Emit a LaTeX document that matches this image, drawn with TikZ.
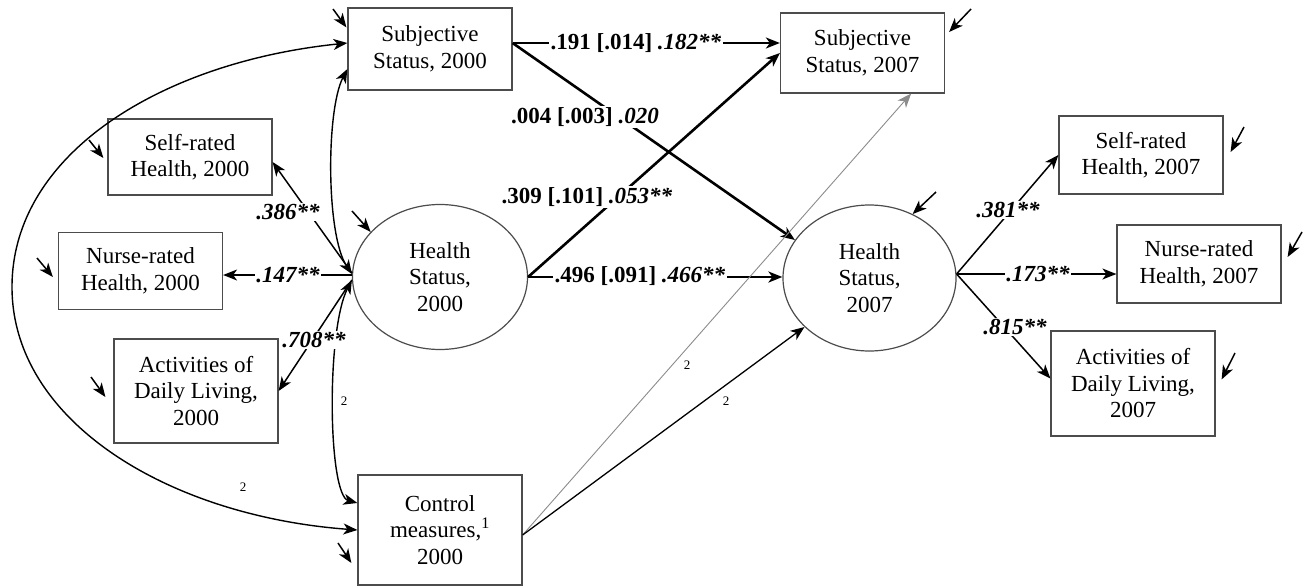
\documentclass[tikz,border=0pt]{standalone}
\usepackage{fontspec}
\setmainfont{Liberation Serif}
\usetikzlibrary{arrows.meta,calc,shapes.geometric}
\begin{document}
\begin{tikzpicture}[x=1pt,y=-1pt,
  every node/.style={font=\fontsize{23}{26.5}\selectfont},
  box/.style={draw=black!70, line width=1.2pt, rectangle, minimum width=164pt, align=center, inner sep=0pt},
  lat/.style={draw=black!70, line width=1.2pt, ellipse, align=center, inner sep=0pt},
  tip/.style={-{Stealth[length=14pt,width=11pt,inset=4pt]}},
  dtip/.style={{Stealth[length=14pt,width=11pt,inset=4pt]}-{Stealth[length=14pt,width=11pt,inset=4pt]}},
  strong/.style={tip, line width=2.6pt},
  load/.style={tip, line width=1.5pt},
  cov/.style={dtip, line width=1.4pt},
  err/.style={tip, line width=1.5pt},
  ctl/.style={tip, line width=1.3pt},
  lab/.style={fill=white, inner sep=1.5pt, font=\fontsize{23}{26}\selectfont\bfseries},
  small/.style={font=\fontsize{13}{15}\selectfont, inner sep=1pt},
]
\fill[white] (0,0) rectangle (1309,587);
\useasboundingbox (0,0) rectangle (1309,587);

% nodes
\node[box, minimum height=82pt] (subj0) at (430,49) {Subjective\\Status, 2000};
\node[box, minimum height=76pt] (self0) at (190,157) {Self-rated\\Health, 2000};
\node[box, minimum height=77pt] (nurse0) at (140.5,271) {Nurse-rated\\Health, 2000};
\node[box, minimum height=104pt] (adl0) at (196,391) {Activities of\\Daily Living,\\2000};
\node[box, minimum height=110pt] (ctrl) at (440,530) {Control\\measures,\textsuperscript{1}\\2000};
\node[lat, minimum width=175pt, minimum height=145pt] (hs0) at (440,277) {Health\\Status,\\2000};
\node[box, minimum height=80pt] (subj7) at (862.5,53) {Subjective\\Status, 2007};
\node[lat, minimum width=173pt, minimum height=146pt] (hs7) at (869.5,278) {Health\\Status,\\2007};
\node[box, minimum height=78pt] (self7) at (1141,155) {Self-rated\\Health, 2007};
\node[box, minimum height=78pt] (nurse7) at (1199,264) {Nurse-rated\\Health, 2007};
\node[box, minimum height=105pt] (adl7) at (1133,383.5) {Activities of\\Daily Living,\\2007};

% structural paths
\coordinate (s0e) at ($(subj0.east)+(0,-6)$);
\draw[strong] (s0e) -- (s0e -| subj7.west);
\draw[strong] (s0e) -- (hs7.153);
\draw[strong] (hs0.east) -- (subj7.west);
\draw[strong] (hs0.east) -- (hs0.east -| hs7.west);

% control measures paths
\coordinate (ce) at ($(ctrl.east)+(0,5)$);
\draw[ctl, black!45, line width=0.9pt] (ce) -- ($(subj7.south east)+(-34,0)$);
\draw[ctl] (ce) -- (hs7.217);

% loadings 2000
\coordinate (h0a) at ($(hs0.west)+(0,-4)$);
\coordinate (h0b) at ($(hs0.west)+(0,-2)$);
\coordinate (h0c) at ($(hs0.west)+(0,3)$);
\draw[load] (h0a) -- ($(self0.east)+(0,5)$);
\draw[load] (h0b) -- (h0b -| nurse0.east);
\draw[load] (h0c) -- (adl0.east);

% loadings 2007
\coordinate (h7) at ($(hs7.east)+(0,-4)$);
\draw[load] (h7) -- (self7.west);
\draw[load] (h7) -- (h7 -| nurse7.west);
\draw[load] (h7) -- ($(adl7.west)+(0,-5)$);

% covariances
\draw[cov] ($(subj0.west)+(0,20)$) .. controls (326,110) and (326,235) .. ($(hs0.west)+(0,-3)$);
\draw[cov] ($(hs0.west)+(0,3)$) .. controls (326,330) and (328,495) .. ($(ctrl.west)+(0,-27)$);
\draw[cov] ($(subj0.west)+(0,-6)$) .. controls (163,62) and (12,153) .. (12,287)
  .. controls (12,421) and (168,516) .. (ctrl.west);

% error terms
\coordinate (e1) at (333,9);
\coordinate (e2) at (89,140);
\coordinate (e3) at (37,258);
\coordinate (e4) at (352,211);
\coordinate (e5) at (91,377);
\coordinate (e6) at (338,543);
\coordinate (e7) at (971,9);
\coordinate (e8) at (936,192);
\coordinate (e9) at (1244,127);
\coordinate (e10) at (1302,232);
\coordinate (e11) at (1235,353);
\draw[err] (e1) -- ($(subj0.north west)+(-1,20)$);
\draw[err] (e2) -- ($(self0.west)+(-4,1)$);
\draw[err] (e3) -- ($(nurse0.west)+(-5,6)$);
\draw[err] (e4) -- (hs0.147);
\draw[err] (e5) -- ($(adl0.west)+(-8,6)$);
\draw[err] (e6) -- ($(ctrl.west)+(-6,33)$);
\draw[err] (e7) -- ($(subj7.east)+(4,-21)$);
\draw[err] (e8) -- (hs7.56);
\draw[err] (e9) -- ($(self7.east)+(7,-3)$);
\draw[err] (e10) -- ($(nurse7.east)+(6,-7)$);
\draw[err] (e11) -- ($(adl7.east)+(6,-4)$);

% labels
\node[lab] (l1) at (636,43) {.191 [.014] \textit{.182**}};
\node[lab] (l2) at (585,117) {.004 [.003] \textit{.020}};
\node[lab] (l3) at (587,197) {.309 [.101] \textit{.053**}};
\node[lab] (l4) at (640,276) {.496 [.091] \textit{.466**}};
\node[lab] (l5) at (288,212) {\textit{.386**}};
\node[lab] (l6) at (288,275) {\textit{.147**}};
\node[lab] (l7) at (314,340) {\textit{.708**}};
\node[lab] (l8) at (1008,210) {\textit{.381**}};
\node[lab] (l9) at (1038,274) {\textit{.173**}};
\node[lab] (l10) at (1015,327) {\textit{.815**}};
\node[small] (n1) at (344,401) {2};
\node[small] (n2) at (243,487) {2};
\node[small] (n3) at (687,365) {2};
\node[small] (n4) at (726,401) {2};
\end{tikzpicture}
\end{document}
